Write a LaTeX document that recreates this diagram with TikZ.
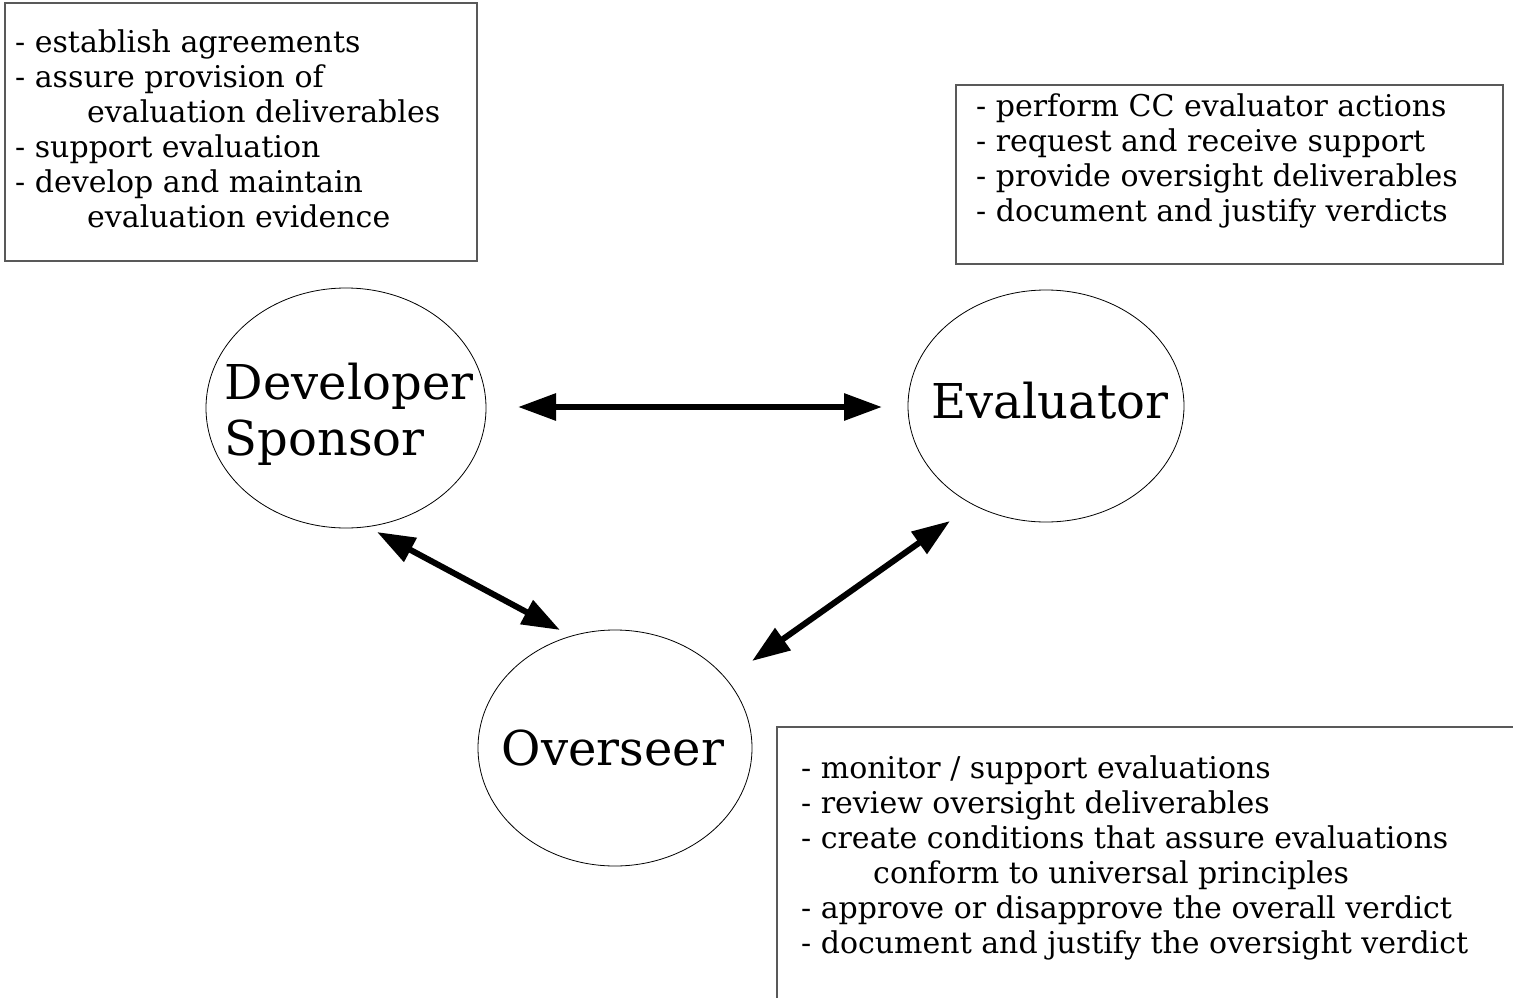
\documentclass[tikz,border=0pt]{standalone}
\usepackage{fontspec}
\setmainfont{DejaVu Serif}
\usetikzlibrary{arrows.meta,shapes.geometric}
\tikzset{
  listbox/.style={draw=black!65, line width=1.2pt},
  listtxt/.style={anchor=north west, inner sep=0pt, align=left, font=\fontsize{30}{35}\selectfont},
  role/.style={draw=black, line width=0.8pt, ellipse, inner sep=0pt},
  rolelabel/.style={inner sep=0pt, align=left, font=\fontsize{48}{56}\selectfont},
  link/.style={line width=6pt, {Triangle[length=38pt,width=26pt]}-{Triangle[length=38pt,width=26pt]}}
}
\newcommand{\ind}{\hspace*{72pt}}
\begin{document}
\begin{tikzpicture}[x=1pt,y=-1pt]
\useasboundingbox (0,0) rectangle (1513,998);
% boxes
\draw[listbox] (5,3) rectangle (477,261);
\draw[listbox] (956,85) rectangle (1503,264);
\draw[listbox] (1513,727) -- (777,727) -- (777,998);
% texts
\node[listtxt] (dtxt) at (15,30) {- establish agreements\\- assure provision of\\\ind evaluation deliverables\\- support evaluation\\- develop and maintain\\\ind evaluation evidence};
\node[listtxt] (etxt) at (976,94) {- perform CC evaluator actions\\- request and receive support\\- provide oversight deliverables\\- document and justify verdicts};
\node[listtxt] (otxt) at (801,755) {- monitor / support evaluations\\- review oversight deliverables\\- create conditions that assure evaluations\\\ind conform to universal principles\\- approve or disapprove the overall verdict\\- document and justify the oversight verdict};
% roles
\node[role, minimum width=280pt, minimum height=240pt] (dev) at (346,408) {};
\node[role, minimum width=276pt, minimum height=232pt] (eval) at (1046,406) {};
\node[role, minimum width=274pt, minimum height=236pt] (over) at (615,748) {};
\node[rolelabel] (devl) at (349,414) {Developer\\Sponsor};
\node[rolelabel] (evall) at (1050,401) {Evaluator};
\node[rolelabel] (overl) at (613,748) {Overseer};
% arrow ends
\coordinate (de) at (518,407);
\coordinate (ed) at (882,407);
\coordinate (do) at (377,532);
\coordinate (od) at (560,630);
\coordinate (eo) at (950,521);
\coordinate (oe) at (752,661);
\draw[link] (de) -- (ed);
\draw[link] (do) -- (od);
\draw[link] (oe) -- (eo);
\end{tikzpicture}
\end{document}
